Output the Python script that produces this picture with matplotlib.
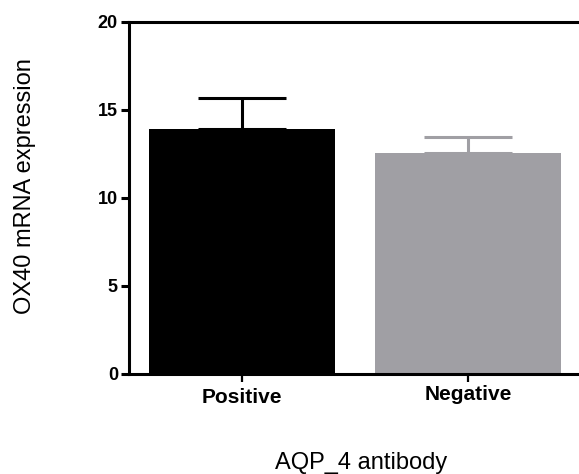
import matplotlib
matplotlib.use("Agg")
import matplotlib.pyplot as plt
import matplotlib.transforms as mtransforms

categories = ["Positive", "Negative"]
means = [13.9, 12.55]
errors = [1.8, 0.92]
colors = ["#000000", "#a09fa4"]
yticks = [0, 5, 10, 15, 20]

plt.rcParams['font.family'] = ['Liberation Sans', 'DejaVu Sans']

fig = plt.figure(figsize=(5.79, 4.74), dpi=100)
ax = fig.add_axes([129/579, 1-374/474, 1-129/579, (374-22)/474])

x = list(range(len(categories)))
for xi, m, e, c in zip(x, means, errors, colors):
    ax.bar(xi, m, width=0.82, color=c, zorder=2)
    ax.errorbar(xi, m, yerr=[[0], [e]], ecolor=c, elinewidth=2.2, capsize=32,
                capthick=2.2, fmt='none', zorder=1)

ax.set_xlim(-0.5, 1.49)
ax.set_ylim(0, 20)
ax.set_yticks(yticks)
ax.set_yticklabels([str(t) for t in yticks], fontsize=13, fontweight='bold')
ax.set_xticks(x)
ax.set_xticklabels(categories, fontsize=15, fontweight='bold')
ax.tick_params(axis='y', length=6, width=2.2, pad=2)
ax.tick_params(axis='x', length=6, width=1.6, pad=4)

# the "Negative" label sits a little higher in the reference
lbl = ax.get_xticklabels()[1]
lbl.set_transform(lbl.get_transform() + mtransforms.ScaledTranslation(0, 3/100, fig.dpi_scale_trans))

for s in ['left', 'bottom', 'top']:
    ax.spines[s].set_linewidth(2.2)
ax.spines['right'].set_visible(False)

fig.text(25/579, 1-186/474, "OX40 mRNA expression", rotation=90, fontsize=17,
         ha='center', va='center')
fig.text(361/579, 1-469/474, "AQP_4 antibody", fontsize=17, ha='center', va='baseline')

fig.savefig("out.png", dpi=100)
